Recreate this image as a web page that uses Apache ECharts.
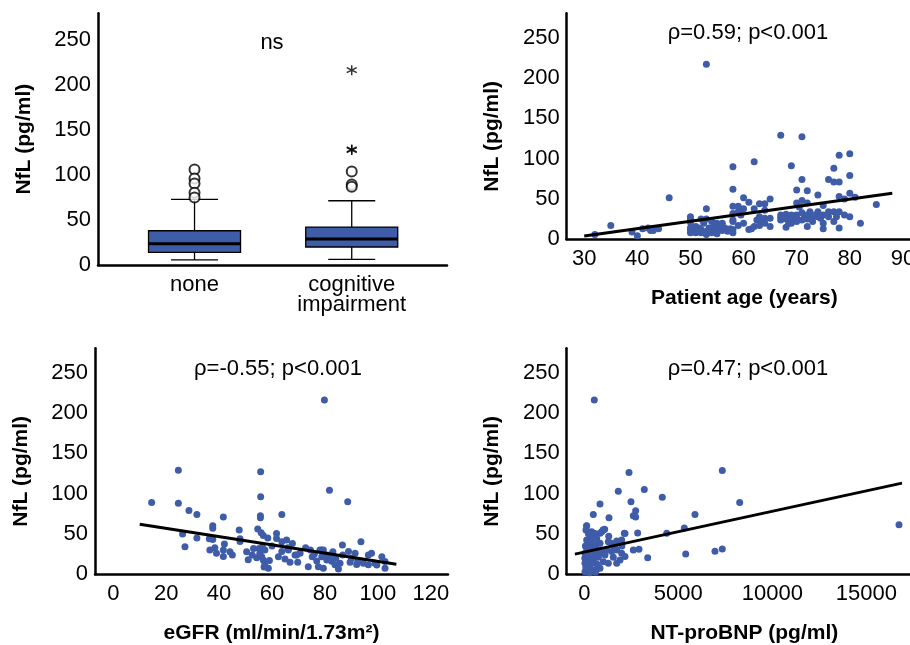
<!DOCTYPE html>
<html>
<head>
<meta charset="utf-8">
<script src="https://cdn.jsdelivr.net/npm/echarts@6/dist/echarts.min.js"></script>
<style>
  html, body { margin: 0; padding: 0; background: #fff; }
  #chart { width: 910px; height: 645px; }
</style>
</head>
<body>
<div id="chart"></div>
<script>
// ---- data ----
var nflTicks = [0, 50, 100, 150, 200, 250];

// box plot: NfL by cognitive impairment  [group, min, Q1, median, Q3, max]
var groupNames = ['none', 'cognitive\nimpairment'];
var boxStats = [
  [1, 5.6, 14.1, 23.7, 38.1, 73],
  [2, 6.3, 20, 28.9, 42.2, 71.5]
];
var outlierCircles = [[1, 106.3], [1, 96.3], [1, 90.7], [1, 80.4], [1, 75.2], [2, 104], [2, 89.6], [2, 87]];
var outlierStars = [[2, 216.7], [2, 127.8], [2, 128.6]];

// age vs NfL
var ageTicks = [30, 40, 50, 60, 70, 80, 90];
var ageNfl = [
  [32,6],[35,17],[39,9],[40,4.5],[41,13],[42,14],[42.5,11],[43,11],[44,13],[46,51.5],
  [50,28],[50,25],[50,21],[50,12],[50,8],[50,14],[51,12],[51,8],[51,16],[51.5,14],[52,25],[52,12],[52,8],
  [52.5,20],[53,38],[53,25],[53,10],[53,6],[53,217],[53.5,14],[54,22],[54,12],[54,8],[54.5,18],[55,20],
  [55,12],[55,7],[55.5,16],[56,20],[56,11],[56.5,14],[57,10],[57.5,13],[58,90],[58,62],[58,41],[58,32],
  [58,24],[58,22],[58,12],[58,8],[59,41],[59,34],[59,17],[59.5,30],
  [60,51.5],[60,38],[60,20],[61,46],[61,12],[61.5,13],[62,96],[62,38],[62,16],[62.5,24],[63,44],[63,28],
  [63,17],[63.5,24],[64,44],[64,36],[64,26],[64,20],[65,50],[65,26],[65,16],
  [67,129],[67,30],[67,27],[67,24],[67.5,28],[68,31],[68,25],[68,15],[68.5,20],[69,91],[69,30],[69,26],
  [69,20],[69.5,29],[70,61],[70,45],[70,30],[70,26],[70,22],[70.5,40],[71,127],[71,74],[71,48],[71,33],
  [71,24],[71.5,28],[72,60],[72,45],[72,30],[72,25],[72,16],[72.5,34],[73,28],[73,22],[73.5,30],[74,55],
  [74,34],[74,28],[74.5,26],[75,42],[75,30],[75,20],[75,13],[76,74],[76,34],[76,28],[77,88],[77,71],
  [77,34],[77,22],[77.5,28],[78,104],[78,71],[78,53],[78,34],[78,14],[79,30],[79,50],[80,106],[80,79],
  [80,57],[80,28],[81,52],[82,20],[85,43]
];
var ageFit = [[30, 4], [88, 57]];

// eGFR vs NfL
var egfrTicks = [0, 20, 40, 60, 80, 100, 120];
var egfrNfl = [
  [14.5,89],[24.6,129],[24.6,88],[26.2,50],[27.1,34],[28.6,79],[31.6,74],[31.6,45],[36.3,44],[37.6,43],
  [37.6,60],[37.6,57],[36.5,30],[38.4,33],[39,26],[41.6,71],[41.6,30],[41.6,22],[42,37.5],[44.1,28],
  [45,24],[47.6,55],[47.9,44],[47.9,40.5],[50.4,28],[52.5,24],[54.2,20.6],[55.4,26],[56.1,21.8],
  [56.7,17.7],[57.3,13.6],[58.6,7.4],[55.1,32],[56.3,34],[57.3,30],[54.6,56],[55.9,51.6],[56.7,48],
  [58.4,45],[55.7,127],[55.7,96],[55.6,72.6],[55.6,70],[63.7,74],[61.7,50.7],[61.7,44.5],[63.7,40.4],
  [65.5,42.5],[67.7,38.3],[66.2,30.1],[63.7,28.1],[62.4,21.8],[66.8,14.8],[69.3,24],[69.7,14.8],
  [72.7,33],[73.7,9.5],[75.2,21.8],[76.9,16.5],[78.1,30.1],[78.8,30.1],[79.4,30.1],[78.8,21.8],
  [80.7,17.7],[81.9,24],[82.5,16.1],[83.8,11.9],[77.5,9.5],[79.4,7.4],[79.8,216],[81.7,104],[88.6,90],
  [86.6,36.3],[88.9,28.1],[91.4,26],[93.6,40.4],[92.4,16.1],[94.5,13.6],[96.4,24],[96.4,11.9],
  [98.9,13.6],[101.5,21.8],[102.7,7.4],[85.1,6.6],[85.7,13.6],[80.7,24],[84.1,20],[86.7,24],[89.5,15],
  [97.6,26],[99.6,11.5],[102.7,16],[60,35],[59,17],[57,9],[53,32],[51,18],[64.9,19],[70.6,26],
  [68.7,24],[66,33],[74.5,30],[76,25],[83,28],[90,20],[92,12]
];
var egfrFit = [[10, 62], [107, 12.5]];

// NT-proBNP vs NfL
var bnpTicks = [0, 5000, 10000, 15000];
var bnpNfl = [
  [532,216],[2378,126],[7340,128.5],[1809,103],[3191,105],[4149,95.4],[835,87],[2484,90],[8266,89],
  [479,74],[1314,70],[2732,78.6],[2607,72.4],[2732,71],[5888,74],[16739,61.5],[124,60],[300,51],
  [1000,55],[835,51],[2129,50.8],[2838,51.2],[4383,50.8],[5319,57.3],[6952,28.5],[7340,31.4],
  [5394,25.2],[3372,20.6],[2607,30],[2908,31],
  [126,59.9],[90,54.9],[215,50.7],[392,52.8],[479,48.7],[569,50.7],[303,46.6],[126,42.5],[392,40.4],
  [660,44.5],[924,52.8],[1011,54.9],[1083,55.7],[303,36.3],[569,36.3],[835,38.4],[126,32.2],[392,30.1],
  [660,31],[37,26],[303,23.9],[569,26],[835,26],[30,19.8],[215,18.6],[479,19.8],[746,21.1],[37,13.6],
  [303,11.5],[569,13.6],[835,7.4],[126,6.2],[392,5.4],[660,6.2],[37,3.3],[1278,40.4],[1456,38.4],
  [1723,41.3],[1988,42.5],[2165,50.7],[1190,30.1],[1456,28.1],[1723,30.1],[1988,26],[2165,21.9],
  [1899,17.7],[1723,13.6],[1278,13.6],[1011,15.7],[1100,23.9],[1543,21.1],[200,28],[100,22],[450,16],
  [250,9],[700,12],[150,14],[60,35],[500,25],[350,33],[900,30],[80,8],[600,3],[280,2],[1300,47],
  [1600,34],[2000,35]
];
var bnpFit = [[-500, 25], [16900, 113]];

// ---- chart ----
var FONT = 'Liberation Sans, Arial, sans-serif';
var BLUE = '#3f5ca9';
var chart = echarts.init(document.getElementById('chart'));

function plain(v) { return String(v); }

function xAxisOf(grid, min, max, ticks, name, fmt) {
  return {
    type: 'value', gridIndex: grid, min: min, max: max,
    name: name, nameLocation: 'middle', nameGap: 48,
    nameTextStyle: { fontFamily: FONT, fontSize: 21, fontWeight: 'bold', color: '#000', lineHeight: 22 },
    axisLine: { onZero: false, lineStyle: { color: '#000', width: 2.5 } },
    axisTick: { show: false },
    splitLine: { show: false },
    axisLabel: { customValues: ticks, fontFamily: FONT, fontSize: 22, color: '#000', margin: 10,
      lineHeight: 20, formatter: fmt || plain }
  };
}
function yAxisOf(grid, shiftDown) {
  return {
    type: 'value', gridIndex: grid, min: 0, max: 280,
    name: 'NfL (pg/ml)', nameLocation: 'middle', nameGap: 63,
    nameTextStyle: { fontFamily: FONT, fontSize: 21, fontWeight: 'bold', color: '#000', lineHeight: 22,
      padding: [0, shiftDown * 2, 0, 0] },
    axisLine: { show: true, onZero: false, lineStyle: { color: '#000', width: 2.5 } },
    axisTick: { show: false },
    splitLine: { show: false },
    axisLabel: { customValues: nflTicks, fontFamily: FONT, fontSize: 22, color: '#000', margin: 7,
      formatter: plain }
  };
}

function renderBox(params, api) {
  var x = api.value(0);
  var lo = api.coord([x, api.value(1)]);
  var q1 = api.coord([x, api.value(2)]);
  var md = api.coord([x, api.value(3)]);
  var q3 = api.coord([x, api.value(4)]);
  var hi = api.coord([x, api.value(5)]);
  var half = 46, cap = 23.5;
  var thin = { stroke: '#000', lineWidth: 1.3 };
  return {
    type: 'group',
    children: [
      { type: 'line', shape: { x1: lo[0], y1: lo[1], x2: q1[0], y2: q1[1] }, style: thin },
      { type: 'line', shape: { x1: hi[0], y1: hi[1], x2: q3[0], y2: q3[1] }, style: thin },
      { type: 'line', shape: { x1: lo[0] - cap, y1: lo[1], x2: lo[0] + cap, y2: lo[1] }, style: thin },
      { type: 'line', shape: { x1: hi[0] - cap, y1: hi[1], x2: hi[0] + cap, y2: hi[1] }, style: thin },
      { type: 'rect', shape: { x: q3[0] - half, y: q3[1], width: half * 2, height: q1[1] - q3[1] },
        style: { fill: BLUE, stroke: '#000', lineWidth: 1.3 } },
      { type: 'line', shape: { x1: md[0] - half, y1: md[1], x2: md[0] + half, y2: md[1] },
        style: { stroke: '#000', lineWidth: 3 } }
    ]
  };
}

function scatterOf(grid, data) {
  return { type: 'scatter', xAxisIndex: grid, yAxisIndex: grid, data: data,
    symbolSize: 7, itemStyle: { color: BLUE, opacity: 1 }, silent: true };
}
function fitOf(grid, data) {
  return { type: 'line', xAxisIndex: grid, yAxisIndex: grid, data: data, symbol: 'none',
    lineStyle: { color: '#000', width: 3 }, silent: true, z: 3 };
}

function annot(text, x, y) {
  return { type: 'text', x: x, y: y,
    style: { text: text, font: '22px ' + FONT, fill: '#000', textAlign: 'center', textVerticalAlign: 'middle' } };
}

var option = {
  backgroundColor: '#fff',
  animation: false,
  grid: [
    { left: 98, right: 463, top: 13.3, bottom: 380, outerBoundsMode: 'none' },
    { left: 566.7, right: -12, top: 13.3, bottom: 405.7, outerBoundsMode: 'none' },
    { left: 95, right: 462, top: 348.3, bottom: 70.7, outerBoundsMode: 'none' },
    { left: 566.7, right: -12, top: 348.3, bottom: 70.7, outerBoundsMode: 'none' }
  ],
  xAxis: [
    xAxisOf(0, 0.386, 2.606, [1, 2], '', function (v) { return groupNames[Math.round(v) - 1]; }),
    xAxisOf(1, 26.7, 93.6, ageTicks, 'Patient age (years)'),
    xAxisOf(2, -6.9, 126.5, egfrTicks, 'eGFR (ml/min/1.73m²)'),
    xAxisOf(3, -936, 17963, bnpTicks, 'NT-proBNP (pg/ml)')
  ],
  yAxis: [yAxisOf(0, 0), yAxisOf(1, 10), yAxisOf(2, 10), yAxisOf(3, 10)],
  graphic: [
    annot('ns', 272, 43),
    annot('ρ=0.59; p<0.001', 748, 33),
    annot('ρ=-0.55; p<0.001', 278, 369),
    annot('ρ=0.47; p<0.001', 748, 369)
  ],
  series: [
    { type: 'custom', xAxisIndex: 0, yAxisIndex: 0, data: boxStats, renderItem: renderBox, silent: true },
    { type: 'scatter', xAxisIndex: 0, yAxisIndex: 0, data: outlierCircles, symbol: 'emptyCircle',
      symbolSize: 10, itemStyle: { color: '#000', borderWidth: 1.3 }, silent: true },
    { type: 'scatter', xAxisIndex: 0, yAxisIndex: 0, data: outlierStars,
      symbol: 'path://M5,0L5,10M0.67,2.5L9.33,7.5M0.67,7.5L9.33,2.5', symbolSize: 10,
      itemStyle: { color: '#000', borderColor: '#000', borderWidth: 1.5 }, silent: true },
    scatterOf(1, ageNfl), fitOf(1, ageFit),
    scatterOf(2, egfrNfl), fitOf(2, egfrFit),
    scatterOf(3, bnpNfl), fitOf(3, bnpFit)
  ]
};
chart.setOption(option);
</script>
</body>
</html>
